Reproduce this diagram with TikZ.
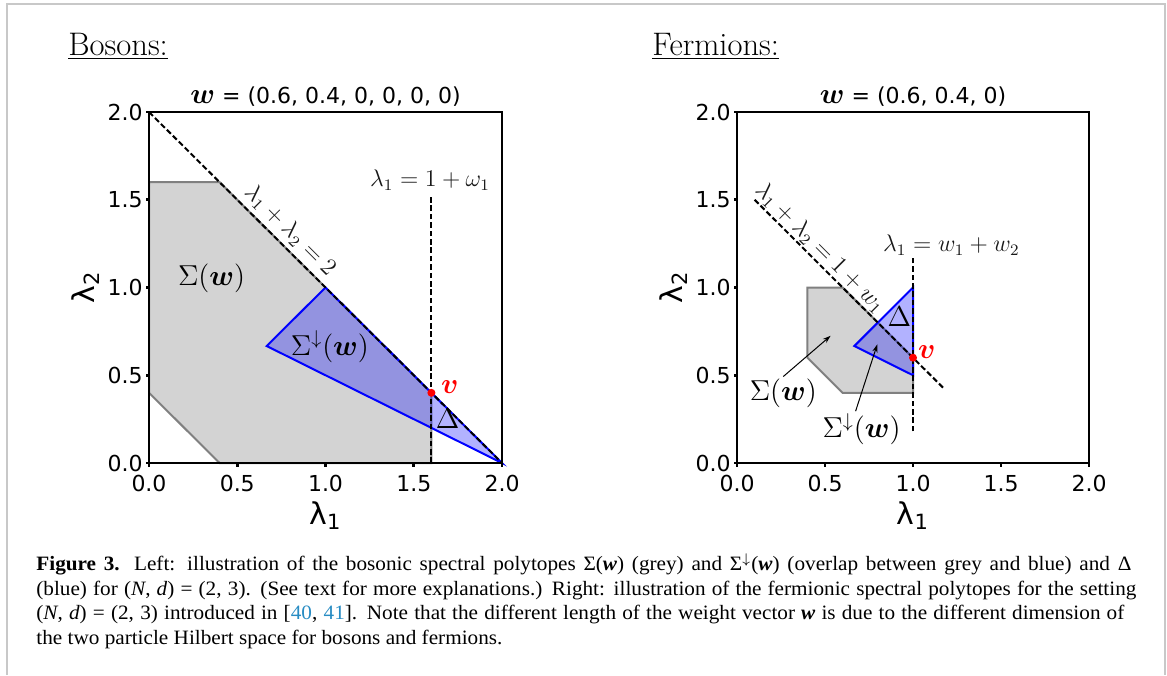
\documentclass[tikz,border=0pt]{standalone}
\usepackage{fontspec}
\usepackage{bm}
\usetikzlibrary{arrows.meta}
\newfontfamily\axfont{DejaVu Sans}
\newfontfamily\capfont[FakeStretch=1.04]{Liberation Serif}
\definecolor{polyfill}{HTML}{D3D3D3}
\definecolor{polyedge}{HTML}{808080}
\definecolor{framegrey}{HTML}{C8C8C8}
\definecolor{citeblue}{RGB}{40,140,195}
\tikzset{
  axbox/.style={line width=1.3pt},
  ticklab/.style={font=\axfont\fontsize{11}{13}\selectfont, inner sep=0pt},
  axlab/.style={font=\axfont\fontsize{15}{18}\selectfont, inner sep=0pt},
  titlelab/.style={font=\axfont\fontsize{11}{13}\selectfont, inner sep=0pt},
  anno/.style={font=\fontsize{11.5}{14}\selectfont, text=black!90, inner sep=0.5pt},
  polylab/.style={font=\fontsize{14.5}{17}\selectfont, inner sep=1pt},
  greypoly/.style={fill=polyfill, draw=polyedge, line width=1pt},
  bluepoly/.style={fill=blue, fill opacity=0.3, draw=blue, line width=1pt},
  guideline/.style={draw=black, line width=1pt, dash pattern=on 2.8pt off 1.4pt},
  vdot/.style={circle, fill=red, inner sep=0pt, minimum size=4pt},
  labarrow/.style={-{Stealth[length=4pt, width=2.6pt]}, line width=0.5pt},
  panelhead/.style={font=\fontsize{16.3}{19}\selectfont, inner sep=0pt},
  capline/.style={font=\capfont\fontsize{10.2}{12}\selectfont, inner sep=0pt, anchor=base west},
}

\begin{document}
\begin{tikzpicture}[x=0.5pt, y=-0.5pt]
  \useasboundingbox (0,0) rectangle (1167,675);
  \draw[framegrey, line width=1pt] (7,675) -- (7,4) -- (1165,4) -- (1165,675);

  \node[panelhead, anchor=base west] (bos) at (68,55) {\underline{Bosons:}};
  \node[panelhead, anchor=base west] (fer) at (652,55) {\underline{Fermions:}};

  % left panel: bosons
  \begin{scope}[shift={(149,463)}, x=88.25pt, y=87.75pt]
    \draw[greypoly] (0,0.4) -- (0,1.6) -- (0.4,1.6) -- (1.6,0.4) -- (1.6,0) -- (0.4,0) -- cycle;
    \draw[bluepoly] (2/3,2/3) -- (1,1) -- (2,0) -- cycle;
    \draw[guideline] (0,2) -- (2,0);
    \draw[guideline] (1.6,0) -- (1.6,1.53);
    \draw[axbox] (0,0) rectangle (2,2);
    \foreach \val [count=\i] in {0.0,0.5,1.0,1.5,2.0} {
      \draw[axbox] (\val,0) -- ++(0,-1.75pt);
      \draw[axbox] (0,\val) -- ++(-1.75pt,0);
      \node[ticklab, anchor=north] (xtL\i) at ([yshift=-6pt]\val,0) {\val};
      \node[ticklab, anchor=east] (ytL\i) at ([xshift=-3pt]0,\val) {\val};
    }
    \node[axlab] (xlabL) at (1,-0.30) {λ\textsubscript{1}};
    \node[axlab, rotate=90] (ylabL) at (-0.36,1.0) {λ\textsubscript{2}};
    \node[titlelab, anchor=base] (titL) at (1,2.05) {{\fontsize{15}{18}\selectfont$\bm{w}$} = (0.6, 0.4, 0, 0, 0, 0)};
    \node[vdot] (vL) at (1.6,0.4) {};
    \node[polylab, text=red] (vlabL) at (1.705,0.435) {$\bm{v}$};
    \node[polylab] (sigL) at (0.355,1.05) {$\Sigma(\bm{w})$};
    \node[polylab] (sdL) at (1.025,0.663) {$\Sigma^{\downarrow}(\bm{w})$};
    \node[polylab] (delL) at (1.692,0.25) {$\Delta$};
    \node[anno] (vertL) at (1.592,1.613) {$\lambda_1=1+\omega_1$};
    \node[anno, rotate=-45] (diagL) at (0.80,1.325) {$\lambda_1+\lambda_2=2$};
  \end{scope}

  % right panel: fermions
  \begin{scope}[shift={(737,463)}, x=88pt, y=87.75pt]
    \draw[greypoly] (0.4,1.0) -- (0.6,1.0) -- (1.0,0.6) -- (1.0,0.4) -- (0.6,0.4) -- (0.4,0.6) -- cycle;
    \draw[bluepoly] (2/3,2/3) -- (1,1) -- (1,0.5) -- cycle;
    \draw[guideline] (0.1,1.5) -- (1.18,0.42);
    \draw[guideline] (1,0.18) -- (1,1.166);
    \draw[axbox] (0,0) rectangle (2,2);
    \foreach \val [count=\i] in {0.0,0.5,1.0,1.5,2.0} {
      \draw[axbox] (\val,0) -- ++(0,-1.75pt);
      \draw[axbox] (0,\val) -- ++(-1.75pt,0);
      \node[ticklab, anchor=north] (xtR\i) at ([yshift=-6pt]\val,0) {\val};
      \node[ticklab, anchor=east] (ytR\i) at ([xshift=-3pt]0,\val) {\val};
    }
    \node[axlab] (xlabR) at (1,-0.30) {λ\textsubscript{1}};
    \node[axlab, rotate=90] (ylabR) at (-0.36,1.0) {λ\textsubscript{2}};
    \node[titlelab, anchor=base] (titR) at (1,2.05) {{\fontsize{15}{18}\selectfont$\bm{w}$} = (0.6, 0.4, 0)};
    \node[vdot] (vR) at (1,0.6) {};
    \node[polylab, text=red] (vlabR) at (1.078,0.634) {$\bm{v}$};
    \node[polylab] (delR) at (0.923,0.834) {$\Delta$};
    \node[anno] (vertR) at (1.218,1.241) {$\lambda_1=w_1+w_2$};
    \node[anno, rotate=-45] (diagR) at (0.474,1.225) {$\lambda_1+\lambda_2=1+w_1$};
    \node[polylab] (sigR) at (0.263,0.397) {$\Sigma(\bm{w})$};
    \node[polylab] (sdR) at (0.708,0.192) {$\Sigma^{\downarrow}(\bm{w})$};
    \coordinate (sigRtip) at (0.532,0.725);
    \coordinate (sdRtip) at (0.797,0.676);
    \draw[labarrow] (sigR.north) -- (sigRtip);
    \draw[labarrow] ([xshift=-3pt]sdR.north) -- (sdRtip);
  \end{scope}

  % caption
  \node[capline] (cap1) at (36,570.5) {\makebox[547.5pt][s]{{\bfseries Figure 3.} Left: illustration of the bosonic spectral polytopes Σ(\textbf{\textit{w}}) (grey) and Σ\textsuperscript{$\downarrow$}(\textbf{\textit{w}}) (overlap between grey and blue) and Δ}};
  \node[capline] (cap2) at (36,595) {\makebox[550pt][s]{(blue) for (\textit{N}, \textit{d}) = (2, 3). (See text for more explanations.) Right: illustration of the fermionic spectral polytopes for the setting}};
  \node[capline] (cap3) at (36,619.5) {\makebox[544pt][s]{(\textit{N}, \textit{d}) = (2, 3) introduced in [\textcolor{citeblue}{40}, \textcolor{citeblue}{41}]. Note that the different length of the weight vector \textbf{\textit{w}} is due to the different dimension of}};
  \node[capline] (cap4) at (36,644) {the two particle Hilbert space for bosons and fermions.};
\end{tikzpicture}
\end{document}
